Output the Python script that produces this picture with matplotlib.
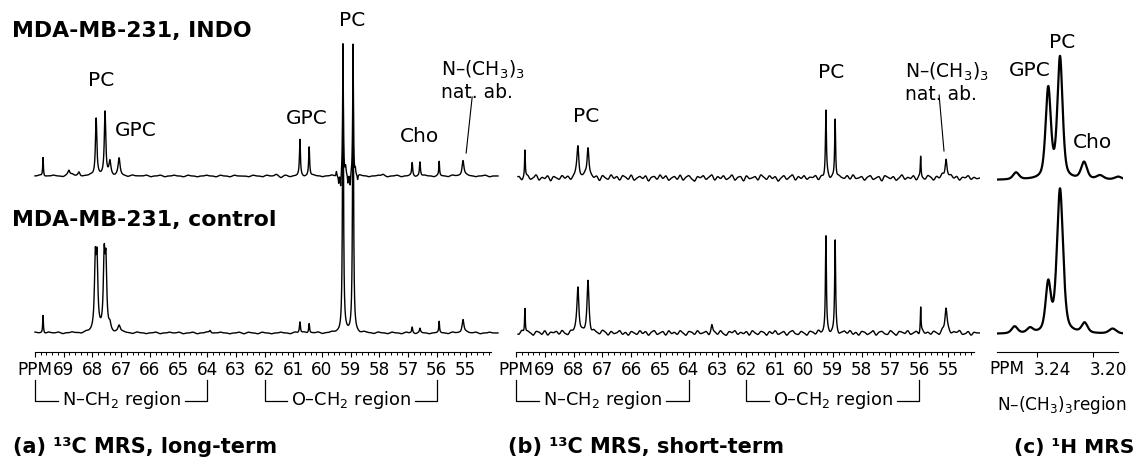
import numpy as np
import matplotlib.pyplot as plt
from matplotlib.ticker import FixedLocator
import matplotlib.transforms as mtransforms

W, H, DPI = 1137, 471, 100

# ---------------- data: peak tables (ppm, height in px above baseline, half-width in ppm)
# (a) 13C MRS, long-term
a_indo_ppm = [69.72, 68.82, 68.47, 67.87, 67.56, 67.39, 67.07, 60.77, 60.45,
              59.50, 59.42, 59.35, 59.27, 59.18, 59.10, 59.02, 58.92, 58.84, 58.76,
              56.86, 56.59, 55.92, 55.09]
a_indo_height = [19, 5, 4, 58, 63, 14, 17, 36, 29,
                 5, -8, -14, 131, 7, -9, -12, 128, 6, -5,
                 13, 14, 14, 16]
a_indo_width = [0.015, 0.04, 0.04, 0.03, 0.03, 0.04, 0.04, 0.02, 0.02,
                0.015, 0.015, 0.015, 0.015, 0.015, 0.015, 0.015, 0.015, 0.015, 0.015,
                0.02, 0.02, 0.015, 0.04]

a_ctrl_ppm = [69.72, 67.90, 67.84, 67.59, 67.53, 67.39, 67.07, 63.9,
              60.77, 60.45, 59.27, 58.92, 56.86, 56.59, 55.92, 55.09]
a_ctrl_height = [18, 68, 66, 70, 64, 6, 7, 3, 11, 10, 290, 288, 6, 4, 11, 14]
a_ctrl_width = [0.015, 0.035, 0.035, 0.035, 0.035, 0.04, 0.05, 0.04,
                0.02, 0.02, 0.02, 0.02, 0.02, 0.02, 0.015, 0.04]

# (b) 13C MRS, short-term
b_indo_ppm = [69.69, 67.85, 67.50, 59.24, 58.92, 55.95, 55.07]
b_indo_height = [27, 31, 32, 66, 61, 21, 20]
b_indo_width = [0.015, 0.04, 0.04, 0.02, 0.02, 0.015, 0.04]

b_ctrl_ppm = [69.69, 67.85, 67.50, 63.2, 59.24, 58.92, 55.95, 55.07]
b_ctrl_height = [25, 45, 50, 7, 96, 91, 26, 25]
b_ctrl_width = [0.015, 0.04, 0.04, 0.03, 0.02, 0.02, 0.015, 0.045]

# (c) 1H MRS
c_indo_ppm = [3.255, 3.232, 3.2236, 3.2064, 3.195, 3.182]
c_indo_height = [7, 90, 121, 17, 4, 3]
c_indo_width = [0.0025, 0.0022, 0.0022, 0.0025, 0.003, 0.003]

c_ctrl_ppm = [3.256, 3.245, 3.232, 3.2236, 3.206, 3.186]
c_ctrl_height = [7, 5, 48, 144, 10, 5]
c_ctrl_width = [0.0025, 0.0025, 0.0022, 0.0026, 0.0025, 0.003]

# baseline noise (px)
noise_a_indo = [0, 1, -1, 0, 1, 0, -1, 1, 2, 0, -1, 0, 1, -1, 0, 1, 0, -1, 1, 0,
                -1, 1, 0, 0, 1, -1, 0, 1, -1, 0, 1, 0, -1, 1, 0, -1, 0, 1, 0, -1,
                1, 0, -1, 1, 0, 0, -1, 1, 0, -1, 1, 0, 2, -2, 1, -1, 0, 1, -1, 0,
                1, 0, -1, 0, 1, -1, 0, 1, 0, -1, 1, 0, -1, 0, 1, 2, -1, 0, 1, -1,
                0, 1, -1, 0, 1, 0, -1, 1, 0, -1, 1, 0, -1, 1, 0, -1, 0, 1, -1, 0]
noise_a_ctrl = [1, 0, -1, 1, 0, 1, -1, 0, 1, 0, -1, 1, 0, -1, 1, 0, 1, -1, 0, 1,
                0, -1, 1, 0, -1, 0, 1, -1, 0, 1, 0, 1, -1, 0, 1, -1, 0, 1, -1, 0,
                1, 0, -1, 0, 1, -1, 1, 0, -1, 1, 0, -1, 0, 1, 0, -1, 1, 0, 1, -1,
                0, 1, -1, 0, 1, 0, -1, 1, 0, 0, -1, 1, 0, -1, 1, 0, -1, 1, 0, -1,
                1, 0, -1, 1, 0, -1, 0, 1, 0, -1, 1, 0, -1, 1, 0, 1, -1, 0, 1, 0]
noise_b_indo = [2, -3, 1, 3, -2, 0, 4, -3, 1, -1, 3, -4, 2, 0, -2, 3, -1, 2, -3, 1,
                4, -2, 0, 3, -3, 1, -1, 2, -4, 3, 0, -2, 4, -1, 2, -3, 3, 1, -2, 4,
                -3, 0, 2, -1, 3, -4, 1, 2, -2, 4, -1, 3, -3, 0, 2, -2, 4, -3, 1, 3,
                -1, -4, 2, 0, 3, -2, 1, 4, -3, 2, -1, 3, -2, 0, 4, -3, 1, 2, -4, 3,
                -1, 0, 2, -3, 4, 1, -2, 3, -1, 2, -4, 0, 3, -2, 1, 4, -3, 2, -1, 3,
                -2, 1, 0, 3, -3, 2, -1, 4, -2, 1, -3, 2, 0, -1, 3, -2, 4, -1, 0, 2,
                -3, 1, 3, -2, 0, 2, -4, 3, 1, -1, 2, -3, 0, 4, -2, 1, -1, 3, -3, 2,
                0, -2, 3, 1, -3, 2, -1, 4, -2, 0, 3, -1, 2, -3, 1, 0, 3, -2, 1, -1]
noise_b_ctrl = [-2, 3, -1, 2, 0, -3, 2, 1, -2, 3, -3, 1, 0, 2, -2, 3, -1, -3, 2, 0,
                3, -2, 1, -1, 3, -3, 2, 0, -2, 3, 1, -3, 2, -1, 0, 3, -2, 1, -3, 2,
                0, -2, 3, -1, 2, -3, 1, 3, -2, 0, 2, -3, 3, -1, 1, -2, 3, 0, -3, 2,
                1, -2, 3, -1, 0, 2, -3, 2, 1, -2, 3, -1, -3, 2, 0, 3, -2, 1, -1, 2,
                -3, 3, 0, -2, 2, 1, -3, 2, -1, 3, -2, 0, 2, -3, 1, 3, -1, -2, 2, 0,
                -3, 2, 1, -2, 3, -1, 0, 2, -2, 1, 3, -3, 0, 2, -1, 3, -2, 1, -3, 2,
                1, -2, 0, 3, -3, 1, 2, -1, -2, 3, 0, -3, 2, 1, -1, 3, -2, 0, 2, -3,
                3, -1, 1, -2, 2, 0, -3, 3, -1, 2, -2, 1, 0, 3, -2, -1, 2, -3, 1, 0]

a_labels = [("PC", 67.70, 272), ("GPC", 66.48, 222), ("GPC", 60.52, 234),
            ("PC", 58.95, 332), ("Cho", 56.62, 215)]
b_labels = [("PC", 67.57, 235), ("PC", 59.06, 280)]
c_labels = [("GPC", 3.2450, 282), ("PC", 3.2221, 310), ("Cho", 3.2007, 210)]

regions = [("N\u2013CH$_2$ region", 70, 64), ("O\u2013CH$_2$ region", 62, 56)]


def lineshape(x, ppm, height, width, eta=1.0):
    y = np.zeros_like(x)
    for p, h, w in zip(ppm, height, width):
        d = (x - p) / w
        y += h * (eta / (1 + d ** 2) + (1 - eta) * np.exp(-np.log(2) * d ** 2))
    return y


def baseline_noise(x, vals, lo, hi, sigma, scale=1.0):
    y = np.zeros_like(x)
    for g, v in zip(np.linspace(lo, hi, len(vals)), vals):
        y += scale * v * np.exp(-0.5 * ((x - g) / sigma) ** 2)
    return y


def rect(x0, y0, x1, y1):
    return [x0 / W, 1 - y1 / H, (x1 - x0) / W, (y1 - y0) / H]


fig = plt.figure(figsize=(W / DPI, H / DPI), dpi=DPI)

ax_a = fig.add_axes(rect(35, 0, 498, 352))
ax_b = fig.add_axes(rect(516, 0, 980, 352))
ax_c = fig.add_axes(rect(997, 0, 1123, 352))

LBL = 14.5
TICK = 12.2


def setup_c13(ax, right):
    ax.set_xlim(70, right)
    ax.set_ylim(0, 352)
    for s in ["left", "right", "top"]:
        ax.spines[s].set_visible(False)
    ax.spines["bottom"].set_bounds(54.1, 70)
    ax.spines["bottom"].set_linewidth(0.8)
    ax.set_yticks([])
    major = list(range(70, 54, -1))
    ax.xaxis.set_major_locator(FixedLocator(major))
    ax.xaxis.set_minor_locator(FixedLocator(np.arange(54.2, 70.01, 0.2)))
    ax.set_xticklabels(["PPM" if v == 70 else str(v) for v in major], fontsize=TICK)
    ax.tick_params(axis="x", which="major", direction="out", length=3.6, width=0.8, pad=3)
    ax.tick_params(axis="x", which="minor", direction="out", length=2.2, width=0.7)
    ax.patch.set_visible(False)


setup_c13(ax_a, 53.87)
setup_c13(ax_b, 53.89)

# ---- (a)
xa = np.linspace(70, 53.87, 5000)
ya_indo = lineshape(xa, a_indo_ppm, a_indo_height, a_indo_width) + baseline_noise(xa, noise_a_indo, 70, 54, 0.05, 0.8)
ya_ctrl = lineshape(xa, a_ctrl_ppm, a_ctrl_height, a_ctrl_width) + baseline_noise(xa, noise_a_ctrl, 70, 54, 0.05, 0.8)
ax_a.plot(xa, 19 + ya_ctrl, color="black", lw=1.0, clip_on=False)
ax_a.plot(xa, 176 + ya_indo, color="black", lw=1.0, clip_on=False)

# ---- (b)
xb = np.linspace(69.93, 53.9, 5000)
yb_indo = lineshape(xb, b_indo_ppm, b_indo_height, b_indo_width) + baseline_noise(xb, noise_b_indo, 69.9, 54, 0.045, 0.8)
yb_ctrl = lineshape(xb, b_ctrl_ppm, b_ctrl_height, b_ctrl_width) + baseline_noise(xb, noise_b_ctrl, 69.9, 54, 0.045, 0.8)
ax_b.plot(xb, 19 + yb_ctrl, color="black", lw=1.0)
ax_b.plot(xb, 174 + yb_indo, color="black", lw=1.0)

# ---- (c)
ax_c.set_xlim(3.2686, 3.1786)
ax_c.set_ylim(0, 352)
for s in ["left", "right", "top"]:
    ax_c.spines[s].set_visible(False)
ax_c.spines["bottom"].set_bounds(3.182, 3.2686)
ax_c.spines["bottom"].set_linewidth(0.8)
ax_c.set_yticks([])
ax_c.patch.set_visible(False)
ax_c.xaxis.set_major_locator(FixedLocator([3.24, 3.20]))
ax_c.set_xticklabels(["3.24", "3.20"], fontsize=TICK)
ax_c.tick_params(axis="x", direction="out", length=3.6, width=0.8, pad=3)
shift = mtransforms.ScaledTranslation(15 / DPI, 0, fig.dpi_scale_trans)
for lbl in ax_c.get_xticklabels():
    lbl.set_transform(lbl.get_transform() + shift)
ax_c.text(3.2615, -17, "PPM", fontsize=TICK, ha="center", va="center")

xc = np.linspace(3.2686, 3.1786, 2000)
yc_indo = lineshape(xc, c_indo_ppm, c_indo_height, c_indo_width, eta=0.5)
yc_ctrl = lineshape(xc, c_ctrl_ppm, c_ctrl_height, c_ctrl_width, eta=0.5)
ax_c.plot(xc, 18 + yc_ctrl, color="black", lw=1.6)
ax_c.plot(xc, 172 + yc_indo, color="black", lw=1.6)

# ---- peak labels
for ax, labels in [(ax_a, a_labels), (ax_b, b_labels), (ax_c, c_labels)]:
    for txt, px, py in labels:
        ax.text(px, py, txt, fontsize=LBL, ha="center", va="center")

# natural-abundance N-(CH3)3 labels with leader lines (text x, peak, leader offsets in ppm)
for ax, tx, peak_ppm, peak_h, base, d_lo, d_hi in [(ax_a, 55.85, 55.09, 16, 176, -0.11, -0.32),
                                                    (ax_b, 56.49, 55.07, 20, 174, 0.07, 0.24)]:
    ax.text(tx, base + 106, "N\u2013(CH$_3$)$_3$", fontsize=13.5, ha="left", va="center")
    ax.text(tx, base + 84, "nat. ab.", fontsize=13.5, ha="left", va="center")
    ax.plot([peak_ppm + d_lo, peak_ppm + d_hi], [base + peak_h + 7, base + peak_h + 63],
            color="black", lw=0.8)

# ---- region brackets under the 13C axes
fig.canvas.draw()
renderer = fig.canvas.get_renderer()
for ax in (ax_a, ax_b):
    for txt, lo, hi in regions:
        t = ax.text((lo + hi) / 2, -48, txt, fontsize=12.8, ha="center", va="center")
        bb = t.get_window_extent(renderer)
        inv = ax.transData.inverted()
        x_left = inv.transform((bb.x0 - 4, bb.y0))[0]
        x_right = inv.transform((bb.x1 + 4, bb.y0))[0]
        ax.plot([lo, lo, x_left], [-28, -49, -49], color="black", lw=0.9, clip_on=False)
        ax.plot([x_right, hi, hi], [-49, -49, -28], color="black", lw=0.9, clip_on=False)

ax_c.text(3.2686, -53, "N\u2013(CH$_3$)$_3$region", fontsize=12.2, ha="left", va="center")

# ---- row and panel titles
fig.text(12 / W, 1 - 31 / H, "MDA-MB-231, INDO", fontsize=15.8, fontweight="bold", va="center")
fig.text(12 / W, 1 - 220 / H, "MDA-MB-231, control", fontsize=15.8, fontweight="bold", va="center")
fig.text(13 / W, 1 - 453 / H, "(a) \u00b9\u00b3C MRS, long-term", fontsize=15, fontweight="bold", va="baseline")
fig.text(508 / W, 1 - 453 / H, "(b) \u00b9\u00b3C MRS, short-term", fontsize=15, fontweight="bold", va="baseline")
fig.text(1014 / W, 1 - 453 / H, "(c) \u00b9H MRS", fontsize=14.5, fontweight="bold", va="baseline")

fig.savefig("out.png", dpi=DPI)
